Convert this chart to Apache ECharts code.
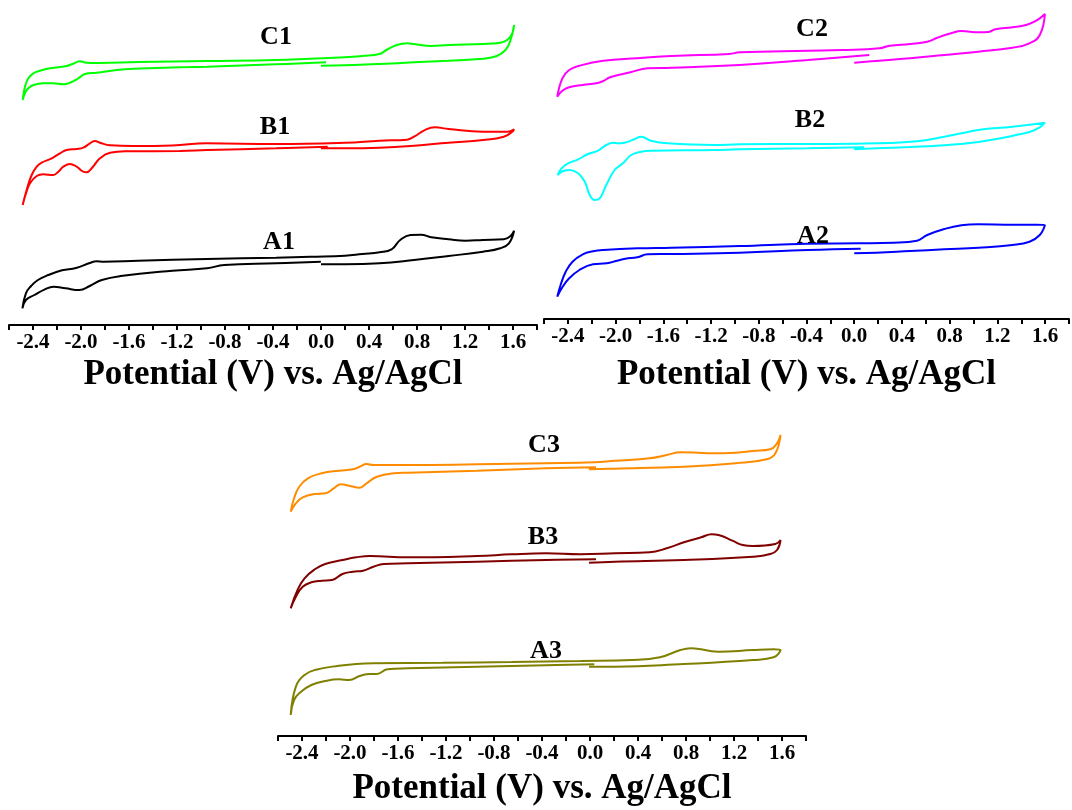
<!DOCTYPE html>
<html>
<head>
<meta charset="utf-8">
<script src="https://cdn.jsdelivr.net/npm/echarts@6/dist/echarts.min.js"></script>
<style>html,body{margin:0;padding:0;background:#fff}#c{width:1072px;height:810px}</style>
</head>
<body>
<div id="c"></div>
<script>
// Potential (V) vs. current (arbitrary units, offset stacked). Each loop: start at 0 V, sweep to +1.6 V, back to -2.5 V, return to 0 V.
const C1 = [[0.0,259.3],[0.2,259.7],[0.49,261],[0.775,262.7],[1.06,264.3],[1.35,266.3],[1.465,269],[1.537,275],[1.58,285],[1.609,300],
  [1.594,291.7],[1.551,285],[1.494,282.3],[1.35,281],[1.063,280],[0.919,279],[0.775,281],[0.718,281.7],[0.631,280],[0.545,275],[0.488,271],[0.344,269],[0.2,267.7],[-0.088,266.3],[-0.375,265],[-0.95,264],[-1.525,263],[-1.842,262],[-1.953,262.3],[-2.008,263.7],[-2.078,260.7],[-2.12,259],[-2.258,256.7],[-2.342,254.3],[-2.397,251.7],[-2.439,246.7],[-2.467,238.3],[-2.486,225],
  [-2.467,231.7],[-2.439,236.7],[-2.397,240],[-2.314,241.7],[-2.231,241.7],[-2.147,240.7],[-2.092,242.3],[-2.022,246.7],[-1.967,251],[-1.869,252.3],[-1.703,255],[-1.564,256.3],[-1.175,257.7],[-0.95,258.3],[-0.375,260.7],[0.042,262.7]];
const B1 = [[0.0,176.7],[0.2,176.7],[0.488,177.3],[0.775,179.3],[1.063,182.3],[1.35,185],[1.523,188.3],[1.594,193.3],[1.609,195.7],
  [1.551,193.3],[1.35,193.3],[1.063,196],[0.948,197.7],[0.861,194.7],[0.775,188.3],[0.718,185.3],[0.488,184.3],[0.2,182.3],[-0.375,181],[-0.95,181.7],[-1.238,179.5],[-1.564,179],[-1.758,179.7],[-1.842,182.3],[-1.883,184],[-1.925,181.7],[-1.981,177.3],[-2.036,176],[-2.119,175],[-2.175,171.7],[-2.244,166.7],[-2.328,162.3],[-2.369,158.3],[-2.411,150],[-2.453,135],[-2.486,120],
  [-2.458,131.7],[-2.425,141.7],[-2.369,149],[-2.314,150.7],[-2.231,150],[-2.189,153.3],[-2.147,158.3],[-2.092,161],[-2.036,158.3],[-1.981,153.3],[-1.953,152.7],[-1.911,156.7],[-1.842,166.7],[-1.758,172.3],[-1.619,173.7],[-1.175,174],[-0.95,175],[-0.375,176.7],[0.056,178.3]];
const A1 = [[0.0,60.7],[0.2,60.7],[0.488,61.7],[0.775,65],[1.063,69],[1.35,73.3],[1.494,76.7],[1.566,81.7],[1.609,94.3],
  [1.58,89],[1.523,85.7],[1.35,85],[1.206,84.3],[1.063,85.7],[0.919,87.7],[0.833,90.3],[0.746,90],[0.66,85],[0.588,75.7],[0.488,72.7],[0.344,71],[0.2,69.3],[-0.088,68.3],[-0.375,67.3],[-0.95,66],[-1.525,64.3],[-1.812,63.3],[-1.87,63.7],[-1.927,62],[-2.042,57],[-2.158,54.7],[-2.272,50],[-2.359,45],[-2.416,39],[-2.459,31.7],[-2.488,16.7],
  [-2.459,25],[-2.388,30],[-2.301,35.7],[-2.229,38.3],[-2.129,36.7],[-2.014,35],[-1.927,39],[-1.827,45],[-1.669,49],[-1.238,54.3],[-0.95,56.7],[-0.806,60],[-0.375,61.7],[-0.001,63.3]];
const C2 = [[0.0,256.3],[0.183,258],[0.469,260.7],[0.755,264],[1.04,267.3],[1.326,271.3],[1.469,275.7],[1.555,284],[1.598,305],
  [1.526,298.3],[1.44,294],[1.326,291.7],[1.183,289.7],[1.126,287],[1.04,286.7],[0.898,288],[0.812,285.7],[0.697,281.3],[0.612,277.3],[0.469,275],[0.297,273.3],[0.212,270.7],[-0.103,269],[-0.389,268.3],[-0.96,266.7],[-1.046,265],[-1.532,263],[-1.818,260.7],[-2.103,258.3],[-2.303,253.3],[-2.389,249],[-2.446,240.7],[-2.489,222.3],
  [-2.446,228.3],[-2.389,231.7],[-2.275,234],[-2.161,235.7],[-2.103,238],[-2.046,241.7],[-1.875,246.7],[-1.732,250.7],[-1.532,251.3],[-0.96,254],[-0.389,259],[0.126,264]];
const B2 = [[0.0,169.7],[0.183,170.7],[0.469,172],[0.755,173.7],[1.04,177],[1.269,181.7],[1.355,184],[1.469,187],[1.555,191.7],[1.598,196.3],
  [1.326,192.3],[1.04,189],[0.898,185.7],[0.755,182.3],[0.612,179],[0.469,177.3],[0.183,175.7],[-0.389,175],[-0.96,174.7],[-1.175,174],[-1.564,175.7],[-1.703,178.3],[-1.786,182.3],[-1.842,179.7],[-1.925,176.3],[-1.981,175.7],[-2.022,176.3],[-2.078,174],[-2.147,168.3],[-2.231,165],[-2.314,159.7],[-2.397,155.7],[-2.453,150.7],[-2.486,144],
  [-2.439,148],[-2.383,149],[-2.314,145.7],[-2.258,137.3],[-2.217,124],[-2.175,119],[-2.133,120.7],[-2.078,134],[-2.008,149],[-1.939,155.7],[-1.869,164],[-1.786,167.3],[-1.703,168.3],[-1.175,169],[-0.96,169.7],[-0.389,170.7],[0.083,171.7]];
const A2 = [[0.0,65.7],[0.183,66.3],[0.469,68],[0.755,69.7],[1.04,71.3],[1.326,74],[1.469,77.3],[1.555,84],[1.598,94],
  [1.526,94.3],[1.326,94.3],[1.04,94.7],[0.898,93.7],[0.755,90],[0.612,84],[0.526,78.3],[0.326,76.3],[0.04,75.7],[-0.389,75.3],[-0.96,73],[-1.532,71.3],[-1.818,70.7],[-2.103,69],[-2.189,67.7],[-2.275,64.7],[-2.361,57.3],[-2.418,47.3],[-2.461,34],[-2.489,22.3],
  [-2.446,31.7],[-2.389,40.7],[-2.303,49],[-2.189,54.7],[-2.075,55.7],[-1.989,58.3],[-1.918,60.3],[-1.818,61.7],[-1.732,64.7],[-1.532,65],[-0.96,66.3],[-0.389,69],[0.054,70.3]];
const C3 = [[-0.008,266.7],[0.208,267.3],[0.783,269.3],[1.214,272.7],[1.473,276.7],[1.545,282.7],[1.588,301],
  [1.559,292.7],[1.502,286.7],[1.358,285],[1.214,283.3],[1.013,282.7],[0.898,283.3],[0.754,283.7],[0.639,281],[0.496,277.7],[0.208,275.3],[0.036,273.7],[-0.367,272.7],[-0.942,271.7],[-1.517,271],[-1.804,271],[-1.862,272],[-1.919,269.3],[-1.977,266.7],[-2.092,265.3],[-2.236,262.7],[-2.351,257.7],[-2.423,249.3],[-2.466,237.7],[-2.494,224.3],
  [-2.451,232.7],[-2.394,238.7],[-2.293,242],[-2.207,242.7],[-2.135,247.7],[-2.077,251.7],[-2.006,250.3],[-1.919,248.3],[-1.862,252.7],[-1.776,259.3],[-1.632,262.7],[-1.517,263.3],[-0.942,265.3],[-0.367,267.7],[0.05,268.7]];
const B3 = [[-0.008,173.3],[0.208,174.3],[0.783,176],[1.358,179.3],[1.502,182],[1.559,186],[1.588,196],
  [1.545,192],[1.358,190],[1.272,191],[1.186,195.3],[1.071,201],[1.013,201.7],[0.927,198.7],[0.783,193.7],[0.639,187.7],[0.496,183.7],[0.208,182.7],[-0.079,181.7],[-0.367,182.7],[-0.654,181.7],[-0.942,180],[-1.517,178.7],[-1.833,180],[-1.948,178.7],[-2.063,176],[-2.207,172],[-2.293,166.7],[-2.379,157.7],[-2.437,146],[-2.494,127.7],
  [-2.451,139.3],[-2.394,149.3],[-2.322,153.7],[-2.236,155.3],[-2.149,156],[-2.063,162],[-1.977,164.3],[-1.891,165.3],[-1.804,169.3],[-1.718,172],[-1.517,172.7],[-0.942,174.3],[-0.367,176],[0.05,176.7]];
const A3 = [[-0.008,69.3],[0.208,69.3],[0.783,72],[1.358,76],[1.53,78.7],[1.588,86],
  [1.53,86.7],[1.358,86],[1.071,84.3],[1.013,84.7],[0.927,86.7],[0.841,87.7],[0.754,86],[0.582,78.7],[0.352,76],[-0.079,75],[-0.654,74],[-1.229,73.3],[-1.804,72.7],[-1.948,72],[-2.092,70.3],[-2.293,66],[-2.379,61],[-2.451,49.3],[-2.494,21],
  [-2.466,36],[-2.408,44.3],[-2.322,51],[-2.207,55],[-2.092,56.7],[-2.006,56],[-1.919,60],[-1.833,62],[-1.776,62],[-1.689,66.7],[-1.517,67.7],[-0.942,69.3],[-0.367,70.7],[0.036,71.7]];

const curveNames = ['C1','B1','A1','C2','B2','A2','C3','B3','A3'];
const curveData = [C1,B1,A1,C2,B2,A2,C3,B3,A3];
const curvePanel = [0,0,0,1,1,1,2,2,2];
const xTickValues = [-2.4,-2.0,-1.6,-1.2,-0.8,-0.4,0.0,0.4,0.8,1.2,1.6];
const axisTitle = 'Potential (V) vs. Ag/AgCl';

// styles / layout
const colors = ['#00ff00','#ff0000','#000000','#ff00ff','#00ffff','#0000ff','#ff8c00','#800000','#808000'];
const grids = [
  {left: 9, top: 0, width: 528, height: 325},
  {left: 544, top: 0, width: 528, height: 319},
  {left: 278, top: 420, width: 528, height: 316}
];
const nameGaps = [32, 38, 35];
const labelPos = [[276,37],[275,127],[279,242],[812,29],[810,120],[813,236],[544,445],[543,537],[546,651]];

const serif = '"Liberation Serif", "Times New Roman", serif';
const chart = echarts.init(document.getElementById('c'), null, {renderer: 'canvas'});
const option = {
  animation: false,
  backgroundColor: '#ffffff',
  grid: grids,
  xAxis: grids.map((g, i) => ({
    type: 'value', gridIndex: i, min: -2.6, max: 1.8, interval: 0.2,
    splitLine: {show: false},
    axisLine: {show: true, lineStyle: {color: '#000', width: 2}},
    axisTick: {show: true, length: 5, lineStyle: {color: '#000', width: 2}},
    axisLabel: {
      margin: 7, color: '#000', fontFamily: serif, fontWeight: 'bold', fontSize: 21,
      formatter: v => xTickValues.some(t => Math.abs(t - v) < 1e-6) ? v.toFixed(1) : ''
    },
    name: axisTitle, nameLocation: 'middle', nameGap: nameGaps[i],
    nameTextStyle: {color: '#000', fontFamily: serif, fontWeight: 'bold', fontSize: 35}
  })),
  yAxis: grids.map((g, i) => ({
    type: 'value', gridIndex: i, min: 0, max: g.height, show: false, splitLine: {show: false}
  })),
  series: curveData.map((d, i) => ({
    name: curveNames[i], type: 'line', xAxisIndex: curvePanel[i], yAxisIndex: curvePanel[i],
    data: d, showSymbol: false, smooth: 0.45, clip: false,
    lineStyle: {color: colors[i], width: 2}, itemStyle: {color: colors[i]}
  })),
  graphic: curveNames.map((n, i) => ({
    type: 'text', x: labelPos[i][0], y: labelPos[i][1], z: 100,
    style: {text: n, font: 'bold 26px ' + serif, fill: '#000', align: 'center', verticalAlign: 'middle'}
  }))
};
chart.setOption(option);
</script>
</body>
</html>
